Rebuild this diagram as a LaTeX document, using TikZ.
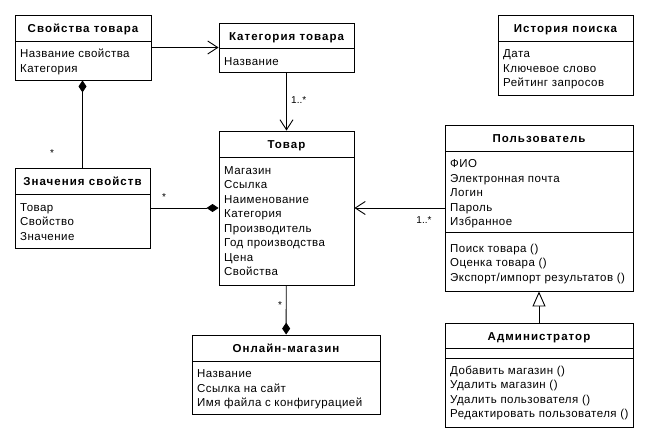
\documentclass[tikz,border=0pt]{standalone}
\usepackage{fontspec}
\setmainfont{Liberation Sans}
\newfontfamily\attrfont[LetterSpace=4]{Liberation Sans}
\newfontfamily\titlefont[LetterSpace=9]{Liberation Sans}
\usetikzlibrary{arrows.meta,fit}
\tikzset{
  box/.style={draw, line width=0.9pt, inner sep=0pt},
  sepline/.style={line width=0.9pt},
  ctitle/.style={font=\titlefont\fontsize{11.5}{13}\selectfont\bfseries, inner sep=0pt, anchor=base},
  attr/.style={font=\attrfont\fontsize{11.5}{13}\selectfont, inner sep=0pt, anchor=base west},
  conn/.style={line width=0.9pt},
  mult/.style={font=\fontsize{10}{12}\selectfont, inner sep=0pt},
  openarrow/.style={-{Straight Barb[length=10pt,width=13pt,line width=0.9pt]}},
  compend/.style={-{Diamond[length=12pt,width=8pt]}},
  compstart/.style={{Diamond[length=12pt,width=8pt]}-},
  genarrow/.style={-{Triangle[open,length=15pt,width=13pt,fill=white,line width=0.9pt]}},
}
% name, x1, y1, x2, y2, separator y, title y(center), title
\newcommand{\umlcls}[8]{%
  \coordinate (#1-nw) at (#2,#3);
  \coordinate (#1-se) at (#4,#5);
  \node[box, fit=(#1-nw)(#1-se)] (#1) {};
  \draw[sepline] (#2,#6) -- (#4,#6);
  \node[ctitle] (#1-t) at ({(#2+#4)/2},{#7+4}) {#8};
}
% name, x, first baseline y, list
\newcommand{\umlattrs}[4]{%
  \foreach \t [count=\i] in {#4} {
    \node[attr] (#1-a\i) at (#2,{#3+(\i-1)*14.5}) {\t};
  }
}
\begin{document}
\begin{tikzpicture}[x=1pt,y=-1pt]
\useasboundingbox[fill=white] (0,0) rectangle (648,442);

\umlcls{svo}{15}{15}{151}{80}{41}{28}{Свойства товара}
\umlattrs{svo}{20}{57.5}{Название свойства,Категория}

\umlcls{kat}{219}{23}{354}{72}{48}{36}{Категория товара}
\umlattrs{kat}{224}{65}{Название}

\umlcls{tov}{219}{131}{354}{285}{157}{144}{Товар}
\umlattrs{tov}{224}{174}{Магазин,Ссылка,Наименование,Категория,Производитель,Год производства,Цена,Свойства}

\umlcls{zna}{15}{168}{150}{248}{194}{181}{Значения свойств}
\umlattrs{zna}{20}{211}{Товар,Свойство,Значение}

\umlcls{ist}{498}{15}{633}{95}{41}{28}{История поиска}
\umlattrs{ist}{503}{57.5}{Дата,Ключевое слово,Рейтинг запросов}

\umlcls{pol}{445}{125}{633}{291}{151}{138}{Пользователь}
\draw[sepline] (445,232) -- (633,232);
\umlattrs{pol}{450}{167.5}{ФИО,Электронная почта,Логин,Пароль,Избранное}
\foreach \t [count=\i] in {Поиск товара (),Оценка товара (),Экспорт/импорт результатов ()} {
  \node[attr] (pol-m\i) at (450,{252+(\i-1)*14.5}) {\t};
}

\umlcls{onl}{192}{335}{380}{414}{361}{348}{Онлайн-магазин}
\umlattrs{onl}{197}{377.5}{Название,Ссылка на сайт,Имя файла с конфигурацией}

\umlcls{adm}{445}{323}{633}{427}{348}{336}{Администратор}
\draw[sepline] (445,358) -- (633,358);
\umlattrs{adm}{450}{374}{Добавить магазин (),Удалить магазин (),Удалить пользователя (),Редактировать пользователя ()}

% connectors
\draw[conn,openarrow] (svo) -- (kat);
\draw[conn,openarrow] (kat) -- (tov);
\node[mult,anchor=west] (m1) at (291,100) {1..*};
\draw[conn,compstart] (svo.south -| zna.north) -- (zna.north);
\node[mult] (m2) at (52,153) {*};
\draw[conn,compend] (zna) -- (tov);
\node[mult] (m3) at (164,197) {*};
\draw[conn,openarrow] (pol) -- (tov);
\node[mult] (m4) at (424,220) {1..*};
\draw[conn,compend] (tov) -- (onl);
\node[mult] (m5) at (280,305) {*};
\draw[conn,genarrow] (adm) -- (pol);
\end{tikzpicture}
\end{document}
